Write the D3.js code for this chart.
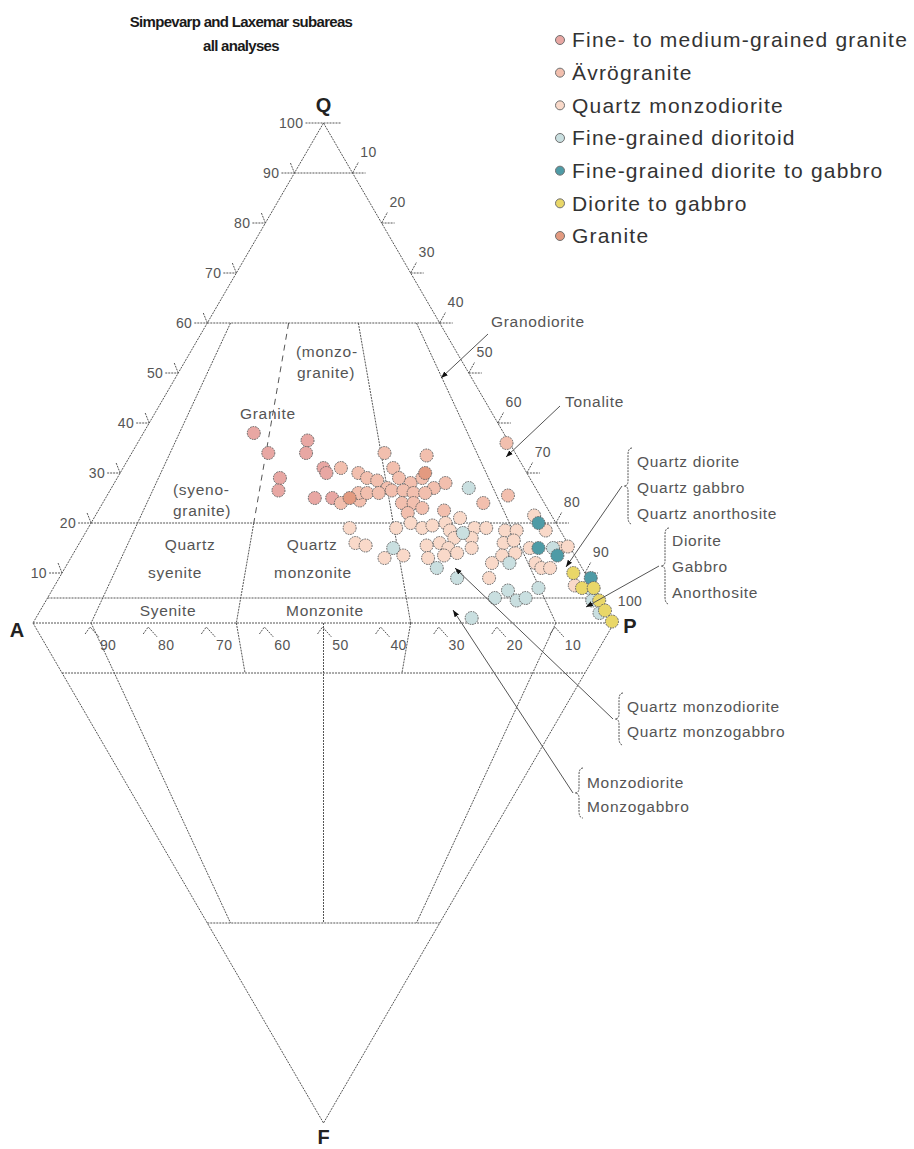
<!DOCTYPE html>
<html>
<head>
<meta charset="utf-8">
<script src="https://cdn.jsdelivr.net/npm/d3@7"></script>
<style>
  body { margin: 0; background: #fff; }
  svg { display: block; }
</style>
</head>
<body>
<svg id="chart" width="914" height="1149"></svg>
<script>
// Modal compositions, each sample as [Q, P] in percent (A = 100 - Q - P)
const fineMediumGranite = [[38,19],[34,23.5],[29,28],[26.5,29],[36.5,29],[34,30],[31,34.5],[30,35.5],[25,36],[25,39]];
const avrogranite = [[31,37.5],[24,41],[24.5,44],[34,43.5],[33.5,51],[31,46.5],[30,41],[29,43],[28.5,45],[27,47.5],
  [29,48.5],[28,51],[29,52.5],[27,55.5],[28,57],[26,43],[26,44.5],[26,46.5],[26.5,48.5],[26.5,50.5],
  [26,52.5],[26,54.5],[24,51.5],[24,53.5],[22,53.5],[23,55.5],[22.5,59.5],[24,65.5],[25.5,69],[36,63.5]];
const quartzMonzodiorite = [[19,45],[16,47.5],[15.5,49.5],[13,54],[13.5,57],[19,53],[20,55],[19,57.5],[19.5,59],[20,61],
  [21,63],[18.5,62.5],[19,66.5],[19,68.5],[18.5,72],[18.5,74],[17,64],[17,67],[15.5,60],[16,62],
  [15,64],[13,61.5],[13.5,64],[14,66],[15,68],[16,73],[13.5,74],[14,76],[21.5,75.5],[18.5,79],
  [16.5,74.5],[15,78],[15,83.2],[15.3,84.4],[12,73],[12,80.5],[11,82],[11,83.5],[9,74],[7.5,89.5]];
const fineGrainedDioritoid = [[15,54.5],[27,61.5],[18,65],[12,76],[15,82],[7,83.5],[5,77],[6.5,78.5],[4.5,81],[5,82.3],
  [6.5,93],[4.5,94],[2,96.5],[1,75],[11,64],[9,68.5]];
const fineGrainedDioriteGabbro = [[20,77],[15,79.5],[13.5,83.5],[9,91.5]];
const dioriteGabbro = [[10,88],[7,91],[7,93],[4.5,95.2],[2.5,97.2],[0.3,99.5]];
const granite = [[25,42],[30,52.5]];

const seriesNames = ["Fine- to medium-grained granite","Ävrögranite","Quartz monzodiorite",
  "Fine-grained dioritoid","Fine-grained diorite to gabbro","Diorite to gabbro","Granite"];
const seriesValues = [fineMediumGranite, avrogranite, quartzMonzodiorite,
  fineGrainedDioritoid, fineGrainedDioriteGabbro, dioriteGabbro, granite];
const seriesColors = ["#e8a7a3","#f2bfae","#f9d9c9","#c9dfe0","#4e9ba6","#e9d768","#e39a80"];

// Diagram construction (Streckeisen QAPF)
const qLevels = [90, 60, 20, 5];          // horizontal lines in the Q triangle
const fLevels = [10, 60];                 // horizontal lines in the F triangle
const upperRatios = [                     // P/(A+P) boundaries in the Q triangle
  {r: 0.10, from: 60, to: 0},
  {r: 0.35, from: 60, to: 20, dashed: true},
  {r: 0.35, from: 20, to: 0},
  {r: 0.65, from: 60, to: 0},
  {r: 0.90, from: 60, to: 0}];
const lowerRatios = [                     // P/(A+P) boundaries in the F triangle
  {r: 0.35, from: 0, to: 10},
  {r: 0.65, from: 0, to: 10},
  {r: 0.10, from: 0, to: 60},
  {r: 0.50, from: 0, to: 60},
  {r: 0.90, from: 0, to: 60}];
const qTicks = [10,20,30,40,50,60,70,80,90];
const aTicks = [90,80,70,60,50,40,30,20,10];

const svg = d3.select("#chart");
const x  = d3.scaleLinear().domain([0,100]).range([33,614]);
const yQ = d3.scaleLinear().domain([0,100]).range([623,123]);
const yF = d3.scaleLinear().domain([0,100]).range([623,1123]);
// ratio r = P/(A+P)
const up = (q, r) => { const p = (100 - q) * r; return [x(p + q / 2), yQ(q)]; };
const lo = (f, r) => { const p = (100 - f) * r; return [x(p + f / 2), yF(f)]; };
const toXY = d => [x(d[1] + d[0] / 2), yQ(d[0])];

const lineColor = "#555";
const g = svg.append("g").attr("fill", "none").attr("stroke", lineColor)
  .attr("stroke-width", 1).attr("stroke-dasharray", "2,1");
const seg = (a, b, sel = g) => sel.append("line")
  .attr("x1", a[0]).attr("y1", a[1]).attr("x2", b[0]).attr("y2", b[1]);

// outline
seg(up(100, 0), up(0, 0)); seg(up(100, 1), up(0, 1)); seg(up(0, 0), up(0, 1));
seg(lo(0, 0), lo(100, 0)); seg(lo(0, 1), lo(100, 1));
qLevels.forEach(q => seg(up(q, 0), up(q, 1)));
fLevels.forEach(f => seg(lo(f, 0), lo(f, 1)));
upperRatios.forEach(b => {
  const l = seg(up(b.from, b.r), up(b.to, b.r));
  if (b.dashed) l.attr("stroke-dasharray", "6,5");
});
lowerRatios.forEach(b => seg(lo(b.from, b.r), lo(b.to, b.r)));

// ticks on the Q-A and Q-P edges
const tickFont = "Liberation Sans, Arial, sans-serif";
const tx = svg.append("g").attr("font-family", tickFont).attr("font-size", 14)
  .attr("fill", "#555").attr("letter-spacing", 0.4);
qTicks.forEach(q => {
  const [px, py] = up(q, 0);
  seg([px - 13, py], [px, py]);
  seg([px - 4, py - 10], [px, py]);
  tx.append("text").attr("x", px - 15).attr("y", py).attr("dy", "0.35em")
    .attr("text-anchor", "end").text(q);
  const [rx, ry] = up(q, 1);
  seg([rx, ry], [rx + 13, ry]);
  seg([rx, ry], [rx + 6, ry - 11]);
  tx.append("text").attr("x", rx + 16).attr("y", ry - 21).attr("dy", "0.35em")
    .attr("text-anchor", "middle").text(100 - q);
});
{
  const [qx, qy] = up(100, 0);
  seg([qx - 18, qy], [qx + 18, qy]);
  tx.append("text").attr("x", qx - 20).attr("y", qy).attr("dy", "0.35em")
    .attr("text-anchor", "end").text(100);
  const [px, py] = up(0, 1);
  tx.append("text").attr("x", px + 16).attr("y", py - 22).attr("dy", "0.35em")
    .attr("text-anchor", "middle").text(100);
}
// ticks on the A-P edge (A percentages)
aTicks.forEach(a => {
  const [px, py] = up(0, (100 - a) / 100);
  g.append("path").attr("d", `M${px - 6},${py + 11} L${px - 1},${py + 4} L${px + 8},${py + 14}`);
  tx.append("text").attr("x", px + 17).attr("y", py + 22).attr("dy", "0.35em")
    .attr("text-anchor", "middle").text(a);
});

// sample points
const pts = svg.append("g");
seriesValues.forEach((vals, i) => {
  pts.selectAll(null).data(vals).join("circle")
    .attr("cx", d => toXY(d)[0]).attr("cy", d => toXY(d)[1]).attr("r", 6.5)
    .attr("fill", seriesColors[i]).attr("stroke", "#606060").attr("stroke-width", 1)
    .attr("stroke-dasharray", "1.6,1");
});

// field names
const fieldLabels = [
  {t: "Granodiorite", x: 491, y: 322, a: "start"},
  {t: "(monzo-", x: 296, y: 352, a: "start"},
  {t: "granite)", x: 297, y: 373, a: "start"},
  {t: "Granite", x: 240, y: 414, a: "start"},
  {t: "Tonalite", x: 565, y: 402, a: "start"},
  {t: "(syeno-", x: 173, y: 490, a: "start"},
  {t: "granite)", x: 173, y: 511, a: "start"},
  {t: "Quartz", x: 190, y: 545, a: "middle"},
  {t: "syenite", x: 175, y: 573, a: "middle"},
  {t: "Quartz", x: 312, y: 545, a: "middle"},
  {t: "monzonite", x: 313, y: 573, a: "middle"},
  {t: "Syenite", x: 168, y: 611, a: "middle"},
  {t: "Monzonite", x: 325, y: 611, a: "middle"}
];
const groupLabels = [
  {lines: ["Quartz diorite","Quartz gabbro","Quartz anorthosite"], x: 637, y0: 462, dy: 26,
   brace: [628, 448, 524], from: [622, 486], to: [566, 567]},
  {lines: ["Diorite","Gabbro","Anorthosite"], x: 672, y0: 541, dy: 26,
   brace: [665, 528, 604], from: [659, 566], to: [586, 607]},
  {lines: ["Quartz monzodiorite","Quartz monzogabbro"], x: 627, y0: 707, dy: 25,
   brace: [619, 693, 745], from: [613, 719], to: [455, 568]},
  {lines: ["Monzodiorite","Monzogabbro"], x: 587, y0: 783, dy: 24,
   brace: [579, 768, 818], from: [573, 793], to: [453, 610]}
];
const leaders = [
  {from: [488, 334], to: [441, 378]},
  {from: [560, 406], to: [506, 457]}
];

const lab = svg.append("g").attr("font-family", tickFont).attr("font-size", 15.5)
  .attr("fill", "#555").attr("letter-spacing", 0.7);
fieldLabels.forEach(l => lab.append("text").attr("x", l.x).attr("y", l.y).attr("dy", "0.35em")
  .attr("text-anchor", l.a).text(l.t));

svg.append("defs").append("marker").attr("id", "head").attr("viewBox", "0 0 8 6")
  .attr("refX", 8).attr("refY", 3).attr("markerWidth", 7).attr("markerHeight", 5.5)
  .attr("markerUnits", "userSpaceOnUse").attr("orient", "auto")
  .append("path").attr("d", "M0,0 L8,3 L0,6 Z").attr("fill", "#111");

const ann = svg.append("g").attr("fill", "none").attr("stroke", lineColor).attr("stroke-width", 1);
const brace = (bx, y0, y1) => {
  const m = (y0 + y1) / 2;
  return `M${bx + 4},${y0} Q${bx},${y0} ${bx},${y0 + 7} L${bx},${m - 5} Q${bx},${m} ${bx - 4},${m}` +
         ` Q${bx},${m} ${bx},${m + 5} L${bx},${y1 - 7} Q${bx},${y1} ${bx + 4},${y1}`;
};
groupLabels.forEach(gl => {
  gl.lines.forEach((t, i) => lab.append("text").attr("x", gl.x).attr("y", gl.y0 + i * gl.dy)
    .attr("dy", "0.35em").text(t));
  ann.append("path").attr("d", brace(...gl.brace)).attr("stroke-dasharray", "2,1");
  ann.append("line").attr("x1", gl.from[0]).attr("y1", gl.from[1])
    .attr("x2", gl.to[0]).attr("y2", gl.to[1]).attr("marker-end", "url(#head)");
});
leaders.forEach(l => ann.append("line").attr("x1", l.from[0]).attr("y1", l.from[1])
  .attr("x2", l.to[0]).attr("y2", l.to[1]).attr("marker-end", "url(#head)"));

// corner labels
const corners = [{t: "Q", p: up(100, 0), dx: 0, dy: -18}, {t: "A", p: up(0, 0), dx: -16, dy: 7},
                 {t: "P", p: up(0, 1), dx: 16, dy: 3}, {t: "F", p: lo(100, 0), dx: 0, dy: 14}];
svg.append("g").attr("font-family", tickFont).attr("font-weight", "bold").attr("font-size", 20)
  .attr("fill", "#222").attr("text-anchor", "middle")
  .selectAll("text").data(corners).join("text")
  .attr("x", d => d.p[0] + d.dx).attr("y", d => d.p[1] + d.dy).attr("dy", "0.35em").text(d => d.t);

// title
const title = svg.append("g").attr("font-family", tickFont).attr("font-weight", "bold")
  .attr("font-size", 15).attr("fill", "#1a1a1a").attr("text-anchor", "middle")
  .attr("letter-spacing", -0.7);
title.append("text").attr("x", 241).attr("y", 22).attr("dy", "0.35em").text("Simpevarp and Laxemar subareas");
title.append("text").attr("x", 241).attr("y", 46).attr("dy", "0.35em").text("all analyses");

// legend
const legend = svg.append("g").attr("font-family", tickFont).attr("font-size", 21)
  .attr("fill", "#333").attr("letter-spacing", 1.2);
const legendY = d3.scalePoint().domain(seriesNames).range([40, 236]);
seriesNames.forEach((n, i) => {
  legend.append("circle").attr("cx", 560).attr("cy", legendY(n)).attr("r", 4.5)
    .attr("fill", seriesColors[i]).attr("stroke", "#707070").attr("stroke-width", 1);
  legend.append("text").attr("x", 572).attr("y", legendY(n)).attr("dy", "0.35em").text(n);
});
</script>
</body>
</html>
